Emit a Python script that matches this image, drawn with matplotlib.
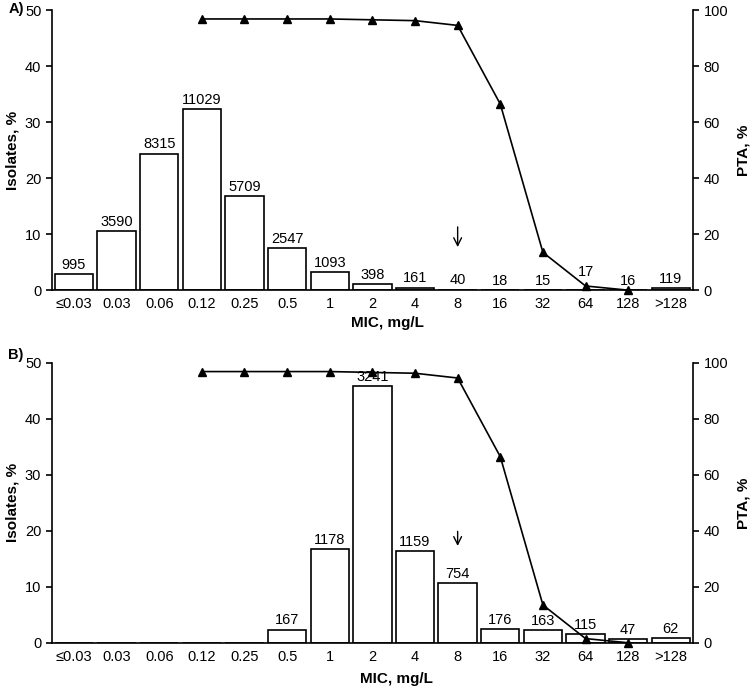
import matplotlib.pyplot as plt
import numpy as np

plt.rcParams['font.family'] = ['Liberation Sans', 'DejaVu Sans']

mic_labels = ['≤0.03', '0.03', '0.06', '0.12', '0.25', '0.5', '1', '2', '4',
              '8', '16', '32', '64', '128', '>128']

# panel A: isolates (%) and counts
pct_a = [2.92, 10.54, 24.41, 32.38, 16.76, 7.48, 3.21, 1.17, 0.47,
         0.12, 0.05, 0.04, 0.05, 0.05, 0.35]
n_a = [995, 3590, 8315, 11029, 5709, 2547, 1093, 398, 161,
       40, 18, 15, 17, 16, 119]

# panel B: isolates (%) and counts (no isolates below 0.5)
pct_b = [0, 0, 0, 0, 0, 2.36, 16.68, 45.89, 16.41,
         10.68, 2.49, 2.31, 1.63, 0.67, 0.88]
n_b = [None, None, None, None, None, 167, 1178, 3241, 1159,
       754, 176, 163, 115, 47, 62]

# PTA (%) from MIC 0.12 to 128
pta_start = 3
pta = [96.9, 96.9, 96.9, 96.9, 96.6, 96.3, 94.6, 66.5, 13.5, 1.5, 0.0]

# breakpoint arrow (index, y from, y to) in isolates %
arrow_a = (9, 11.8, 7.2)
arrow_b = (9, 20.4, 16.8)


def draw_panel(ax, pct, counts, arrow, letter, letter_y, xlab_pos, label_lift):
    x = np.arange(len(mic_labels))
    ax.bar(x, pct, width=0.9, color='white', edgecolor='black', linewidth=1.2, zorder=2)
    for i, (v, c) in enumerate(zip(pct, counts)):
        if c is None:
            continue
        ax.annotate(str(c), (i, v), xytext=(0, 1.5 + label_lift.get(i, 0)),
                    textcoords='offset points', ha='center', va='bottom', fontsize=10.5)
    ax.set_xlim(-0.52, len(mic_labels) - 0.48)
    ax.set_ylim(0, 50)
    ax.set_yticks([0, 10, 20, 30, 40, 50])
    ax.set_xticks(x)
    ax.set_xticklabels(mic_labels)
    ax.tick_params(axis='x', length=0, labelsize=10.5, pad=5)
    ax.tick_params(axis='y', labelsize=10.5, width=1.2, length=4)
    ax.spines['top'].set_visible(False)
    ax.spines['right'].set_visible(False)
    for s in ['left', 'bottom']:
        ax.spines[s].set_linewidth(1.2)
    ax.set_ylabel('Isolates, %', fontweight='bold', fontsize=11, labelpad=4)
    ax.set_xlabel('MIC, mg/L', fontweight='bold', fontsize=11)
    ax.xaxis.set_label_coords(*xlab_pos)

    ax.annotate('', xy=(arrow[0], arrow[2]), xytext=(arrow[0], arrow[1]),
                arrowprops=dict(arrowstyle='->', color='black', lw=1.0,
                                mutation_scale=14))

    ax2 = ax.twinx()
    ax2.plot(np.arange(pta_start, pta_start + len(pta)), pta, '-^', color='black',
             lw=1.2, ms=6, zorder=3, clip_on=False)
    ax2.set_ylim(0, 100)
    ax2.set_yticks([0, 20, 40, 60, 80, 100])
    ax2.tick_params(axis='y', labelsize=10.5, width=1.2, length=4)
    ax2.spines['top'].set_visible(False)
    ax2.spines['left'].set_visible(False)
    ax2.spines['bottom'].set_visible(False)
    ax2.spines['right'].set_linewidth(1.2)
    ax2.set_ylabel('PTA, %', fontweight='bold', fontsize=11, labelpad=6)

    ax.text(-0.068, letter_y, letter, transform=ax.transAxes, fontweight='bold',
            fontsize=10.5, ha='left', va='center')


fig = plt.figure(figsize=(7.5, 6.86), dpi=100)
ax_a = fig.add_axes([0.069, 0.577, 0.855, 0.408])
ax_b = fig.add_axes([0.069, 0.063, 0.855, 0.408])

draw_panel(ax_a, pct_a, n_a, arrow_a, 'A)', 1.005, (0.523, -0.093), {12: 6})
draw_panel(ax_b, pct_b, n_b, arrow_b, 'B)', 1.028, (0.538, -0.104), {})

fig.savefig('out.png', dpi=100)
